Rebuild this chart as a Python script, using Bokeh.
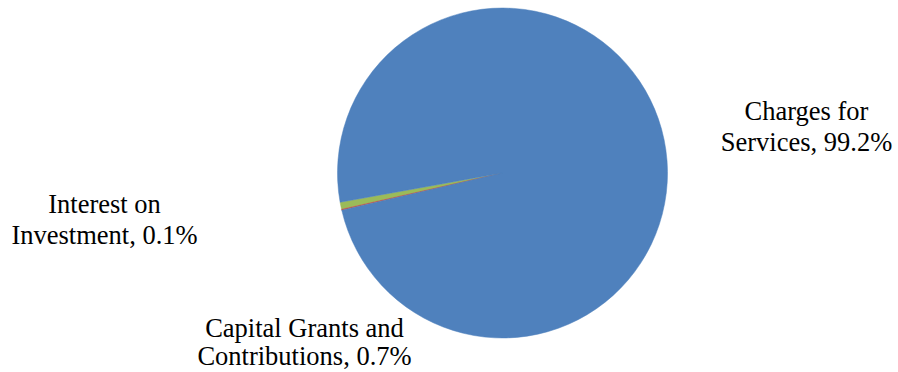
import numpy as np
from bokeh.plotting import figure
from bokeh.models import ColumnDataSource, Range1d
from bokeh.core.properties import value
from bokeh.embed import file_html
from bokeh.resources import INLINE

# Data (counter-clockwise drawing order)
categories = ["Capital Grants and Contributions", "Interest on Investment", "Charges for Services"]
percents = [0.7, 0.1, 99.2]
colors = ["#9BBB59", "#C0504D", "#4F81BD"]
label_line1 = ["Capital Grants and", "Interest on", "Charges for"]
label_line2_prefix = ["Contributions", "Investment", "Services"]

W, H = 898, 372
p = figure(width=W, height=H, output_backend="svg", toolbar_location=None,
           x_range=Range1d(0, W), y_range=Range1d(0, H), min_border=0)
p.axis.visible = False
p.grid.visible = False
p.outline_line_color = None
p.background_fill_color = "white"
p.border_fill_color = "white"

start_deg = 190.2
vals = np.array(percents)
fr = vals / vals.sum()
ends = np.deg2rad(start_deg) + np.cumsum(fr) * 2 * np.pi
starts = ends - fr * 2 * np.pi

cx, cy, r = 502, 199.5, 165
src = ColumnDataSource(dict(start=starts, end=ends, color=colors))
p.wedge(x=cx, y=cy, radius=r, start_angle="start", end_angle="end",
        fill_color="color", line_color="color", line_width=0.5, source=src)

# label placement (styling)
lx = [304, 104, 806]
ly1 = [45, 169, 262]
ly2 = [17, 138, 231]
line2 = [f"{pre}, {v}%" for pre, v in zip(label_line2_prefix, percents)]
p.text(x=lx, y=ly1, text=label_line1, text_font=value("Liberation Serif"),
       text_font_size="26.5px", text_align="center", text_baseline="alphabetic",
       text_color="black")
p.text(x=lx, y=ly2, text=line2, text_font=value("Liberation Serif"),
       text_font_size="26.5px", text_align="center", text_baseline="alphabetic",
       text_color="black")

open("out.html", "w").write(file_html(p, INLINE))
